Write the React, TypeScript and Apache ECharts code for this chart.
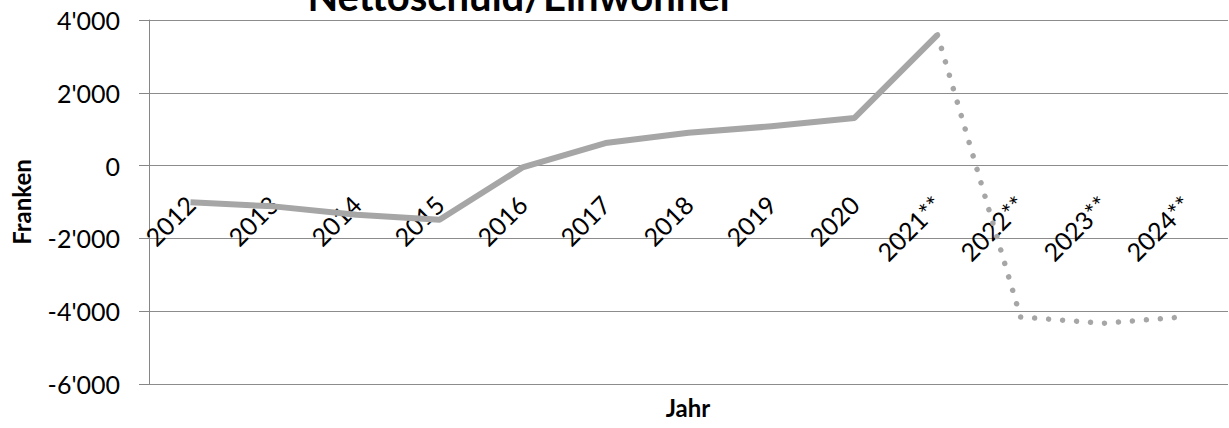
import React, { useEffect, useRef } from "react";
import * as echarts from "echarts";

const categories = ["2012", "2013", "2014", "2015", "2016", "2017", "2018", "2019", "2020", "2021**", "2022**", "2023**", "2024**"];
const actualValues = [-1010, -1120, -1350, -1490, -50, 620, 900, 1080, 1310, 3590];
const forecastCategories = ["2021**", "2022**", "2023**", "2024**"];
const forecastValues = [3590, -4160, -4330, -4150];
const yTicks = { min: -6000, max: 4000, interval: 2000 };

const FONT = "Lato, 'Open Sans', sans-serif";

function fmt(v: number): string {
  const s = Math.abs(v).toString().replace(/\B(?=(\d{3})+(?!\d))/g, "'");
  return (v < 0 ? "-" : "") + s;
}

export default function App() {
  const ref = useRef<HTMLDivElement>(null);
  useEffect(() => {
    if (!ref.current) return;
    const chart = echarts.init(ref.current, null, { renderer: "svg" });
    const solid = categories.map((c, i) => (i < actualValues.length ? actualValues[i] : null));
    const dotted = categories.map((c) => {
      const k = forecastCategories.indexOf(c);
      return k >= 0 ? forecastValues[k] : null;
    });
    chart.setOption({
      animation: false,
      backgroundColor: "#ffffff",
      grid: { left: 149, right: 1, top: 20, bottom: 44, containLabel: false },
      graphic: [
        {
          type: "text",
          x: 521,
          y: -4,
          style: { text: "Nettoschuld/Einwohner", font: `bold 40px ${FONT}`, fill: "#000", align: "center", verticalAlign: "middle" },
        },
        {
          type: "text",
          x: 21,
          y: 202,
          rotation: Math.PI / 2,
          style: { text: "Franken", font: `bold 24px ${FONT}`, fill: "#000", align: "center", verticalAlign: "middle" },
        },
        {
          type: "text",
          x: 688,
          y: 407,
          style: { text: "Jahr", font: `bold 24px ${FONT}`, fill: "#000", align: "center", verticalAlign: "middle" },
        },
      ],
      xAxis: {
        type: "category",
        data: categories,
        boundaryGap: true,
        offset: -188,
        axisLine: { show: false },
        axisTick: { show: false },
        axisLabel: { rotate: 45, margin: 4, interval: 0, color: "#000", fontFamily: FONT, fontSize: 25 },
        splitLine: { show: false },
      },
      yAxis: {
        type: "value",
        min: yTicks.min,
        max: yTicks.max,
        interval: yTicks.interval,
        axisLine: { show: true, lineStyle: { color: "#868686", width: 1 } },
        axisTick: { show: true, length: 10, lineStyle: { color: "#868686", width: 1 } },
        axisLabel: { margin: 29, color: "#000", fontFamily: FONT, fontSize: 25, formatter: (v: number) => fmt(v) },
        splitLine: { show: true, lineStyle: { color: "#8c8c8c", width: 1 } },
      },
      series: [
        {
          type: "line",
          data: solid,
          symbol: "none",
          connectNulls: false,
          lineStyle: { color: "#a6a6a6", width: 6, join: "round" },
          z: 3,
        },
        {
          type: "line",
          data: dotted,
          symbol: "none",
          connectNulls: false,
          lineStyle: { color: "#a6a6a6", width: 5.5, type: [0.01, 14], cap: "round" },
          z: 3,
        },
      ],
    });
    return () => chart.dispose();
  }, []);
  return <div ref={ref} style={{ position: "absolute", left: 0, top: 0, width: 1229, height: 428 }} />;
}
